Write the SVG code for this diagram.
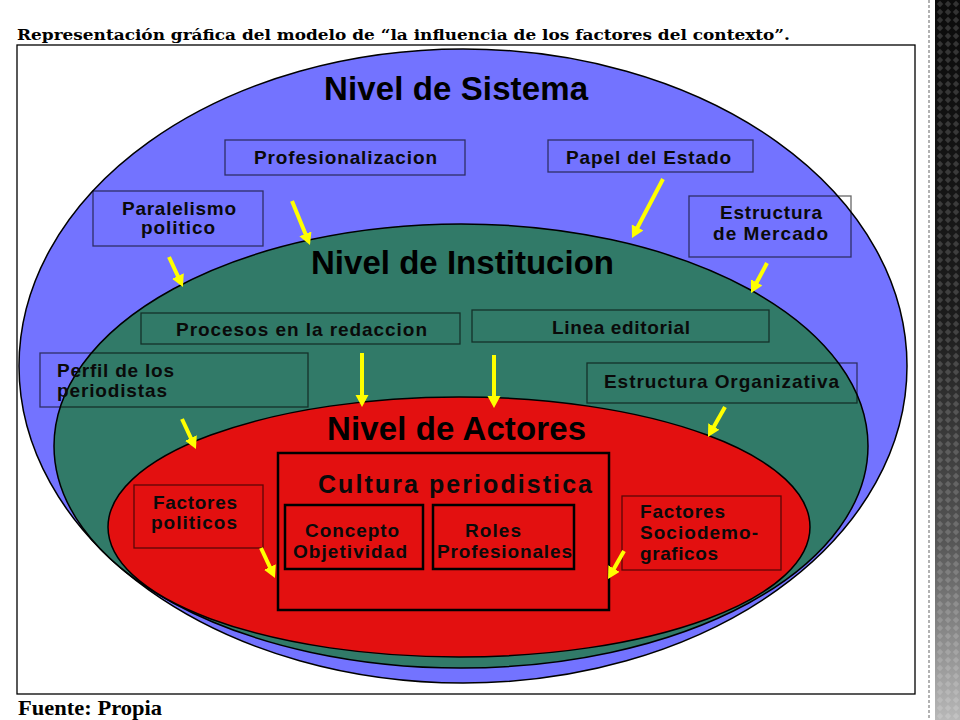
<svg xmlns="http://www.w3.org/2000/svg" width="960" height="720" viewBox="0 0 960 720">
  <defs>
    <style>
      .lvl { stroke: #000; stroke-width: 1.5; }
      .box { fill: none; stroke: #000; stroke-opacity: 0.6; stroke-width: 1.3; }
      .ibox { fill: none; stroke: #000; stroke-width: 2.5; }
      .t { font-family: "Liberation Sans", Arial, sans-serif; font-weight: bold; font-size: 19px; fill: #0a0a0a; }
      .big { font-size: 25px; }
      .h { font-family: "Liberation Sans", Arial, sans-serif; font-weight: bold; font-size: 33px; fill: #000; text-anchor: middle; }
      .arr { stroke: #ffff00; stroke-width: 4; fill: none; marker-end: url(#ah); }
    </style>
    <marker id="ah" markerUnits="userSpaceOnUse" markerWidth="14" markerHeight="14" refX="1" refY="6.5" orient="auto">
      <path d="M0,0 L12,6.5 L0,13 z" fill="#ffff00"/>
    </marker>
    <linearGradient id="band" x1="0" y1="0" x2="0" y2="1">
      <stop offset="0" stop-color="#0b0b0b"/>
      <stop offset="0.45" stop-color="#1c1c1c"/>
      <stop offset="0.75" stop-color="#555"/>
      <stop offset="1" stop-color="#b8b8b8"/>
    </linearGradient>
    <pattern id="dia" patternUnits="userSpaceOnUse" width="8" height="8">
      <path d="M4,0.8 L7.2,4 L4,7.2 L0.8,4 z" fill="#fff" fill-opacity="0.16"/>
    </pattern>
  </defs>

  <rect x="0" y="0" width="960" height="720" fill="#fff"/>

  <g id="side-band">
    <line x1="929" y1="0" x2="929" y2="720" stroke="#999" stroke-width="1.5" stroke-dasharray="3 2"/>
    <rect x="935" y="0" width="25" height="720" fill="url(#band)"/>
    <rect x="935" y="0" width="25" height="720" fill="url(#dia)"/>
  </g>

  <g id="title">
    <text x="17" y="40" font-family="'DejaVu Serif', 'Liberation Serif', serif" font-weight="bold" font-size="15" fill="#000" textLength="773" lengthAdjust="spacingAndGlyphs">Representación gráfica del modelo de “la influencia de los factores del contexto”.</text>
  </g>

  <rect id="frame" x="17" y="45" width="898" height="649" fill="none" stroke="#000" stroke-width="1.3"/>

  <g id="nivel-sistema">
    <ellipse class="lvl" cx="463" cy="366" rx="444" ry="317" fill="#7373ff"/>
    <text class="h" x="456" y="100" textLength="264">Nivel de Sistema</text>
  </g>
  <g id="nivel-institucion">
    <ellipse class="lvl" cx="461" cy="446" rx="407" ry="222" fill="#317a68"/>
    <text class="h" x="462.5" y="274" textLength="303">Nivel de Institucion</text>
  </g>
  <g id="nivel-actores">
    <ellipse class="lvl" cx="459" cy="527" rx="351" ry="130" fill="#e31010"/>
    <text class="h" x="456.5" y="440" textLength="259">Nivel de Actores</text>
  </g>

  <g id="profesionalizacion">
    <rect class="box" x="225" y="140" width="240" height="35"/>
    <text class="t" x="254" y="164" textLength="183">Profesionalizacion</text>
  </g>
  <g id="papel-estado">
    <rect class="box" x="548" y="140" width="205" height="32"/>
    <text class="t" x="566" y="164" textLength="165">Papel del Estado</text>
  </g>
  <g id="paralelismo">
    <rect class="box" x="93" y="191" width="170" height="55"/>
    <text class="t" x="122" y="215" textLength="114">Paralelismo</text>
    <text class="t" x="141" y="234" textLength="74">politico</text>
  </g>
  <g id="estructura-mercado">
    <rect class="box" x="689" y="196" width="162" height="61"/>
    <text class="t" x="720" y="219" textLength="102">Estructura</text>
    <text class="t" x="713" y="240" textLength="115">de Mercado</text>
  </g>
  <g id="procesos">
    <rect class="box" x="141" y="313" width="319" height="31"/>
    <text class="t" x="176" y="336" textLength="251">Procesos en la redaccion</text>
  </g>
  <g id="linea-editorial">
    <rect class="box" x="472" y="310" width="297" height="32"/>
    <text class="t" x="552" y="334" textLength="138">Linea editorial</text>
  </g>
  <g id="perfil">
    <rect class="box" x="40" y="353" width="268" height="54"/>
    <text class="t" x="57" y="377" textLength="117">Perfil de los</text>
    <text class="t" x="57" y="397" textLength="110">periodistas</text>
  </g>
  <g id="estructura-organizativa">
    <rect class="box" x="587" y="363" width="270" height="40"/>
    <text class="t" x="604" y="388" textLength="235">Estructura Organizativa</text>
  </g>
  <g id="factores-politicos">
    <rect class="box" x="134" y="485" width="129" height="63"/>
    <text class="t" x="153" y="509" textLength="84">Factores</text>
    <text class="t" x="151" y="529" textLength="86">politicos</text>
  </g>
  <g id="cultura-periodistica">
    <rect class="ibox" x="278" y="453" width="331" height="157" stroke-width="3"/>
    <text class="t big" x="318" y="493" textLength="274">Cultura periodistica</text>
  </g>
  <g id="concepto-objetividad">
    <rect class="ibox" x="285" y="505" width="138" height="64"/>
    <text class="t" x="305" y="537" textLength="94">Concepto</text>
    <text class="t" x="293" y="558" textLength="114">Objetividad</text>
  </g>
  <g id="roles-profesionales">
    <rect class="ibox" x="433" y="505" width="141" height="64"/>
    <text class="t" x="465" y="537" textLength="56">Roles</text>
    <text class="t" x="437" y="558" textLength="135">Profesionales</text>
  </g>
  <g id="factores-sociodemograficos">
    <rect class="box" x="622" y="496" width="159" height="74"/>
    <text class="t" x="640" y="518" textLength="85">Factores</text>
    <text class="t" x="640" y="539" textLength="118">Sociodemo-</text>
    <text class="t" x="640" y="560" textLength="78">graficos</text>
  </g>

  <g id="connectors">
    <line class="arr" x1="292" y1="201" x2="305.8" y2="234.8"/>
    <line class="arr" x1="169" y1="257" x2="178.3" y2="277"/>
    <line class="arr" x1="663" y1="179" x2="637.1" y2="228.3"/>
    <line class="arr" x1="767" y1="263" x2="756.2" y2="283.3"/>
    <line class="arr" x1="362" y1="353" x2="362" y2="396"/>
    <line class="arr" x1="494" y1="355" x2="494" y2="397"/>
    <line class="arr" x1="182" y1="419" x2="191.3" y2="439"/>
    <line class="arr" x1="725" y1="407" x2="713.4" y2="427.4"/>
    <line class="arr" x1="261" y1="548" x2="270.3" y2="568"/>
    <line class="arr" x1="624" y1="551" x2="613.5" y2="569.4"/>
  </g>

  <g id="source">
    <text x="18" y="715" font-family="'Liberation Serif', serif" font-weight="bold" font-size="21" fill="#000" textLength="144" lengthAdjust="spacingAndGlyphs">Fuente: Propia</text>
  </g>
</svg>
